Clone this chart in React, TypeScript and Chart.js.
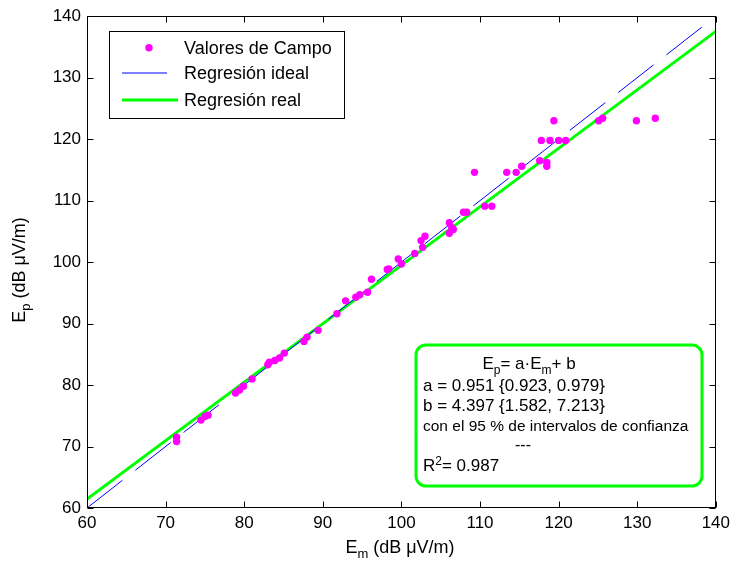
import React, { useEffect, useRef } from "react";
import { Chart, registerables } from "chart.js";

Chart.register(...registerables);

// ---- data ----
const measuredEm = [
  71.4, 71.4, 74.5, 75.0, 75.4, 78.9, 79.4, 79.9, 81.0, 83.0,
  83.2, 83.9, 84.5, 85.1, 87.6, 88.0, 89.4, 91.8, 92.9, 94.2,
  94.7, 95.7, 96.2, 98.2, 98.4, 99.6, 100.0, 101.7, 102.5, 103.0,
  102.7, 106.1, 106.4, 106.6, 106.1, 107.9, 108.3, 109.3, 110.6, 111.5,
  113.4, 114.6, 115.3, 117.6, 118.5, 118.5, 117.8, 118.9, 120.0, 120.9,
  119.4, 125.1, 125.6, 129.9, 132.3,
];
const predictedEp = [
  71.5, 70.8, 74.3, 74.9, 75.1, 78.7, 79.2, 79.8, 81.0, 83.3,
  83.7, 84.0, 84.4, 85.2, 87.1, 87.8, 88.9, 91.6, 93.7, 94.3,
  94.7, 95.1, 97.2, 98.8, 98.9, 100.5, 99.7, 101.4, 103.5, 104.2,
  102.4, 106.4, 105.6, 105.3, 104.7, 108.1, 108.1, 114.6, 109.1, 109.1,
  114.6, 114.6, 115.6, 116.5, 116.2, 115.6, 119.8, 119.8, 119.8, 119.8,
  123.0, 123.0, 123.4, 123.0, 123.4,
];
const slopeA = 0.951;
const interceptB = 4.397;
const lineRange = [60, 140];
const axisTicks = [60, 70, 80, 90, 100, 110, 120, 130, 140];
const seriesLabels = ["Valores de Campo", "Regresión ideal", "Regresión real"];
const statA = "a = 0.951 {0.923, 0.979}";
const statB = "b = 4.397 {1.582, 7.213}";
const statConf = "con el 95 % de intervalos de confianza";
const statSep = "---";
const statR2 = "0.987";

const FONT = '"Liberation Sans", Arial, Helvetica, sans-serif';
const MAGENTA = "#ff00ff";
const BLUE = "#0000ff";
const GREEN = "#00ff00";

type Run = { t: string; s?: "sub" | "sup" };

function drawRuns(
  ctx: CanvasRenderingContext2D,
  runs: Run[],
  x: number,
  y: number,
  size: number,
  align: "left" | "center"
) {
  const small = Math.round(size * 0.72);
  const widths = runs.map((r) => {
    ctx.font = `${r.s ? small : size}px ${FONT}`;
    return ctx.measureText(r.t).width;
  });
  const total = widths.reduce((a, b) => a + b, 0);
  let cx = align === "center" ? x - total / 2 : x;
  ctx.textAlign = "left";
  ctx.textBaseline = "alphabetic";
  runs.forEach((r, i) => {
    ctx.font = `${r.s ? small : size}px ${FONT}`;
    let dy = 0;
    if (r.s === "sub") dy = size * 0.3;
    if (r.s === "sup") dy = -size * 0.38;
    ctx.fillText(r.t, cx, y + dy);
    cx += widths[i];
  });
}

const decorPlugin = {
  id: "decor",
  afterDraw(chart: any) {
    const ctx: CanvasRenderingContext2D = chart.ctx;
    const { left, right, top, bottom } = chart.chartArea;
    const xs = chart.scales.x;
    const ys = chart.scales.y;
    const L = Math.round(left) + 0.5;
    const R = Math.round(right) - 0.5;
    const T = Math.round(top) + 0.5;
    const B = Math.round(bottom) - 0.5;
    ctx.save();
    // frame
    ctx.strokeStyle = "#000";
    ctx.lineWidth = 1;
    ctx.strokeRect(L, T, R - L, B - T);
    // inward ticks
    const tl = 6;
    ctx.beginPath();
    axisTicks.forEach((v) => {
      const px = Math.round(xs.getPixelForValue(v)) + 0.5;
      ctx.moveTo(px, B);
      ctx.lineTo(px, B - tl);
      ctx.moveTo(px, T);
      ctx.lineTo(px, T + tl);
      const py = Math.round(ys.getPixelForValue(v)) + 0.5;
      ctx.moveTo(L, py);
      ctx.lineTo(L + tl, py);
      ctx.moveTo(R, py);
      ctx.lineTo(R - tl, py);
    });
    ctx.stroke();

    // legend
    const ds = chart.data.datasets;
    const lx = 109.5, ly = 31.5, lw = 235, lh = 87;
    ctx.fillStyle = "#fff";
    ctx.fillRect(lx, ly, lw, lh);
    ctx.strokeStyle = "#000";
    ctx.lineWidth = 1;
    ctx.strokeRect(lx, ly, lw, lh);
    const rows = [47.7, 73, 100];
    // marker
    ctx.fillStyle = ds[0].backgroundColor;
    ctx.beginPath();
    ctx.arc(149, rows[0], 3.7, 0, Math.PI * 2);
    ctx.fill();
    // ideal line
    ctx.strokeStyle = ds[1].borderColor;
    ctx.lineWidth = ds[1].borderWidth;
    ctx.beginPath();
    ctx.moveTo(122, rows[1]);
    ctx.lineTo(167, rows[1]);
    ctx.stroke();
    // real line
    ctx.strokeStyle = ds[2].borderColor;
    ctx.lineWidth = ds[2].borderWidth;
    ctx.beginPath();
    ctx.moveTo(122, rows[2]);
    ctx.lineTo(178, rows[2]);
    ctx.stroke();
    ctx.fillStyle = "#000";
    ctx.font = `18px ${FONT}`;
    ctx.textAlign = "left";
    ctx.textBaseline = "middle";
    ds.forEach((d: any, i: number) => {
      ctx.fillText(d.label, 184, rows[i] + 1);
    });

    // statistics box
    const bx = 416, by = 345, bw = 286, bh = 141, r = 10;
    ctx.beginPath();
    ctx.moveTo(bx + r, by);
    ctx.lineTo(bx + bw - r, by);
    ctx.arcTo(bx + bw, by, bx + bw, by + r, r);
    ctx.lineTo(bx + bw, by + bh - r);
    ctx.arcTo(bx + bw, by + bh, bx + bw - r, by + bh, r);
    ctx.lineTo(bx + r, by + bh);
    ctx.arcTo(bx, by + bh, bx, by + bh - r, r);
    ctx.lineTo(bx, by + r);
    ctx.arcTo(bx, by, bx + r, by, r);
    ctx.closePath();
    ctx.fillStyle = "#fff";
    ctx.fill();
    ctx.strokeStyle = GREEN;
    ctx.lineWidth = 3;
    ctx.stroke();
    ctx.fillStyle = "#000";
    drawRuns(ctx, [{ t: "E" }, { t: "p", s: "sub" }, { t: "= a·E" }, { t: "m", s: "sub" }, { t: "+ b" }], 529, 369, 17, "center");
    drawRuns(ctx, [{ t: statA }], 423, 391, 17, "left");
    drawRuns(ctx, [{ t: statB }], 423, 411, 17, "left");
    drawRuns(ctx, [{ t: statConf }], 423, 431, 15.5, "left");
    drawRuns(ctx, [{ t: statSep }], 523, 450, 16, "center");
    drawRuns(ctx, [{ t: "R" }, { t: "2", s: "sup" }, { t: "= " + statR2 }], 423, 471, 17, "left");

    // axis titles
    drawRuns(ctx, [{ t: "E" }, { t: "m", s: "sub" }, { t: " (dB μV/m)" }], 400, 553, 18, "center");
    ctx.save();
    ctx.translate(25, 270);
    ctx.rotate(-Math.PI / 2);
    drawRuns(ctx, [{ t: "E" }, { t: "p", s: "sub" }, { t: " (dB μV/m)" }], 0, 0, 18, "center");
    ctx.restore();
    ctx.restore();
  },
};

export default function App() {
  const ref = useRef<HTMLCanvasElement | null>(null);
  useEffect(() => {
    document.body.style.margin = "0";
    const canvas = ref.current;
    if (!canvas) return;
    const points = measuredEm.map((x, i) => ({ x, y: predictedEp[i] }));
    const ideal = lineRange.map((x) => ({ x, y: x }));
    const real = lineRange.map((x) => ({ x, y: slopeA * x + interceptB }));
    const tickFont = { family: FONT, size: 17 };
    const chart = new Chart(canvas, {
      type: "scatter",
      data: {
        datasets: [
          {
            label: seriesLabels[0],
            data: points,
            backgroundColor: MAGENTA,
            borderColor: MAGENTA,
            borderWidth: 0,
            pointRadius: 3.7,
            showLine: false,
            order: 1,
          },
          {
            label: seriesLabels[1],
            data: ideal,
            borderColor: BLUE,
            backgroundColor: BLUE,
            borderWidth: 1,
            borderDash: [45, 16.3],
            pointRadius: 0,
            showLine: true,
            order: 2,
          },
          {
            label: seriesLabels[2],
            data: real,
            borderColor: GREEN,
            backgroundColor: GREEN,
            borderWidth: 3,
            pointRadius: 0,
            showLine: true,
            order: 3,
          },
        ],
      },
      options: {
        animation: false,
        responsive: false,
        devicePixelRatio: 1,
        layout: { padding: { left: 0, right: 17, top: 16, bottom: 0 } },
        plugins: { legend: { display: false }, tooltip: { enabled: false } },
        scales: {
          x: {
            type: "linear",
            min: 60,
            max: 140,
            afterFit: (s: any) => {
              s.height = 57;
            },
            afterBuildTicks: (s: any) => {
              s.ticks = axisTicks.map((v) => ({ value: v }));
            },
            ticks: { font: tickFont, color: "#000", padding: 5, maxRotation: 0 },
            grid: { display: false, drawTicks: false, tickLength: 0 },
            border: { display: false },
          },
          y: {
            type: "linear",
            min: 60,
            max: 140,
            afterFit: (s: any) => {
              s.width = 87;
            },
            afterBuildTicks: (s: any) => {
              s.ticks = axisTicks.map((v) => ({ value: v }));
            },
            ticks: { font: tickFont, color: "#000", padding: 6 },
            grid: { display: false, drawTicks: false, tickLength: 0 },
            border: { display: false },
          },
        },
      },
      plugins: [decorPlugin],
    } as any);
    return () => chart.destroy();
  }, []);
  return (
    <div style={{ width: 735, height: 565 }}>
      <canvas ref={ref} width={735} height={565} />
    </div>
  );
}
